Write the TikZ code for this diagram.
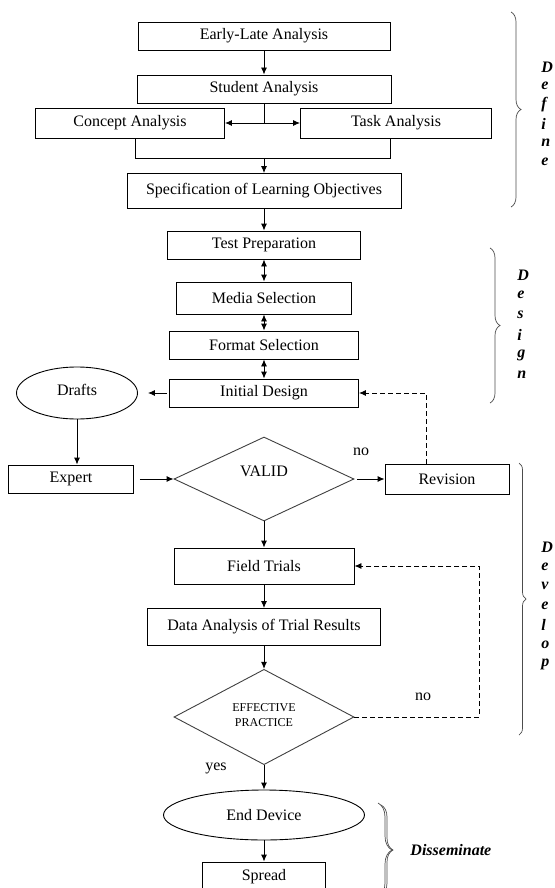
\documentclass[tikz,border=0pt]{standalone}
\usepackage{fontspec}
\setmainfont{Liberation Serif}
\usetikzlibrary{shapes.geometric,arrows.meta,decorations.pathreplacing}

\begin{document}
\begin{tikzpicture}[x=1pt,y=-1pt,font=\fontsize{16}{18}\selectfont,
  >={Latex[length=7pt,width=6pt]},line width=0.9pt,
  box/.style={draw,rectangle,inner sep=0pt,minimum height=28pt},
  oval/.style={draw,ellipse,inner sep=0pt},
  choice/.style={draw=black!75,diamond,inner sep=0pt},
  phase/.style={font=\fontsize{16}{18}\selectfont\bfseries\itshape,inner sep=0pt},
  curly/.style={decorate,decoration={brace,amplitude=#1},draw=black!70,line width=0.7pt},
  loopback/.style={dashed,dash pattern=on 5pt off 3pt,->}]
\useasboundingbox (0,0) rectangle (554,888);

% define
\node[box,minimum width=252pt] (early) at (264,36) {Early-Late Analysis};
\node[box,minimum width=254pt] (stud) at (264,89) {Student Analysis};
\node[box,minimum width=189pt,minimum height=30pt] (conc) at (130,123) {Concept Analysis};
\node[box,minimum width=191pt,minimum height=30pt] (task) at (396,123) {Task Analysis};
\node[box,minimum width=274pt,minimum height=35pt] (spec) at (264,191) {Specification of Learning Objectives};

% design
\node[box,minimum width=193pt] (test) at (264,245) {Test Preparation};
\node[box,minimum width=175pt,minimum height=32pt] (media) at (264,298) {Media Selection};
\node[box,minimum width=189pt] (format) at (264,345) {Format Selection};
\node[box,minimum width=189pt] (init) at (264,393) {Initial Design};
\node[oval,minimum width=121pt,minimum height=52pt] (drafts) at (77,393) {\raisebox{6pt}{Drafts}};

% develop
\node[box,minimum width=125pt] (expert) at (71,479) {Expert};
\node[choice,minimum width=180pt,minimum height=84pt] (valid) at (264,479) {\raisebox{16pt}{VALID}};
\node[box,minimum width=124pt,minimum height=30pt] (rev) at (447,479) {Revision};
\node[box,minimum width=180pt,minimum height=36pt] (field) at (264,566) {Field Trials};
\node[box,minimum width=233pt,minimum height=37pt] (data) at (264,627) {Data Analysis of Trial Results};
\node[choice,minimum width=180pt,minimum height=92pt,font=\fontsize{12}{15}\selectfont] (eff) at (264,717)
  {\raisebox{14pt}{\begin{tabular}{@{}c@{}}EFFECTIVE\\PRACTICE\end{tabular}}};

% disseminate
\node[oval,minimum width=201pt,minimum height=50pt] (endd) at (264,815) {End Device};
\node[box,minimum width=123pt,minimum height=30pt] (spread) at (264,877) {Spread};

% connectors
\draw[->] (early) -- (stud);
\coordinate (split) at (stud.south |- conc.east);
\draw (stud) -- (split);
\draw[->] (split) -- (conc);
\draw[->] (split) -- (task);
\draw ([xshift=5pt]conc.south) -- ++(0,20) coordinate (join) -| ([xshift=-6pt]task.south);
\coordinate (merge) at (spec.north |- join);
\draw[->] (merge) -- (spec);
\draw[->] (spec) -- (test);
\draw[<->] (test) -- (media);
\draw[<->] (media) -- (format);
\draw[<->] (format) -- (init);
\draw[->,shorten <=2pt,shorten >=10pt] (init.west) -- (drafts.east);
\draw[->] (drafts.south) -- (drafts.south |- expert.north);
\draw[->,shorten <=6pt] (expert) -- (valid);
\draw[->,shorten <=3pt] (valid) -- (rev);
\node (no1) at (361,452) {no};
\draw[loopback] ([xshift=-21pt]rev.north) |- (init.east);
\draw[->] (valid) -- (field);
\draw[->] (field) -- (data);
\draw[->] (data) -- (eff);
\draw[loopback] (eff.east) -- ++(125,0) |- (field.east);
\node (no2) at (423,697) {no};
\draw[->] (eff) -- (endd);
\node (yes) at (216,768) {yes};
\draw[->] (endd) -- (spread);

% phase braces
\draw[curly=10pt] (511,12) -- (511,207);
\foreach \l [count=\i] in {D,e,f,i,n,e}
  \node[phase,anchor=west] (define\i) at (541,48+19*\i) {\l};
\draw[curly=10pt] (490,248) -- (490,403);
\foreach \l [count=\i] in {D,e,s,i,g,n}
  \node[phase,anchor=west] (design\i) at (517,255+20*\i) {\l};
\draw[curly=7pt] (519,463) -- (519,735);
\foreach \l [count=\i] in {D,e,v,e,l,o,p}
  \node[phase,anchor=west] (develop\i) at (541,527.5+19.5*\i) {\l};
\draw[curly=14pt] (378,803) -- (378,897);
\draw[curly=12pt] (381,805) -- (381,895);
\node[phase,anchor=west] (dissem) at (410,850) {Disseminate};
\end{tikzpicture}
\end{document}
